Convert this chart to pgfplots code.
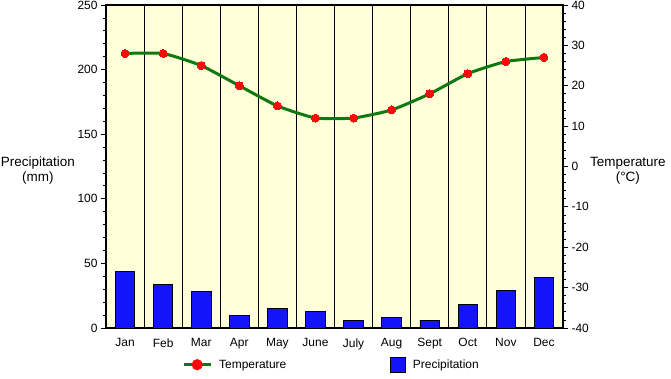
\documentclass[border=0pt]{standalone}
\usepackage{pgfplots}
\pgfplotsset{compat=1.18}
\usepackage{fontspec}
\setmainfont{Liberation Sans}
\definecolor{bg}{RGB}{255,255,217}
\definecolor{barblue}{RGB}{20,20,250}
\definecolor{lgreen}{RGB}{16,120,16}
\definecolor{mred}{RGB}{250,10,10}
\begin{document}
\begin{tikzpicture}
\useasboundingbox (0,0) rectangle (671bp,379bp);
\begin{axis}[
  at={(106bp,51bp)}, anchor=south west,
  scale only axis, width=457bp, height=323bp,
  xmin=0.5, xmax=12.5, ymin=0, ymax=250,
  clip mode=individual,
  axis background/.style={fill=bg},
  axis line style={line width=1.6bp},
  xtick={1,...,12},
  xticklabels={Jan,Feb,Mar,Apr,May,June,July,Aug,Sept,Oct,Nov,Dec},
  minor xtick={1.5,2.5,...,11.5},
  xminorgrids, minor x grid style={black, line width=0.8bp, solid},
  xtick style={draw=none},
  xtick pos=bottom,
  ytick={0,50,...,250}, minor y tick num=4, ytick pos=left,
  tick align=outside, major tick length=5bp, minor tick length=3bp,
  ytick style={black, line width=0.8bp},
  tick label style={font=\fontsize{12}{14}\selectfont},
  /pgf/number format/assume math mode=true,
  xticklabel style={yshift=-2bp},
  ybar, bar width=19.5bp,
  legend style={at={(axis description cs:0.6214,-0.1136)}, anchor=west,
    draw=none, fill=none, inner sep=0pt, font=\fontsize{12}{14}\selectfont,
    column sep=5bp},
]
\addplot[fill=barblue, draw=black, line width=0.8bp,
  legend image code/.code={\draw[fill=barblue, draw=black, line width=0.8bp] (0bp,-7.5bp) rectangle (15bp,7.5bp);}]
  coordinates {(1,44) (2,34) (3,28) (4,10) (5,15) (6,13) (7,6) (8,8) (9,6) (10,18) (11,29) (12,39)};
\addlegendentry{Precipitation}
\node[align=center, font=\fontsize{13.5}{15}\selectfont] at (axis description cs:-0.149,0.488) {Precipitation\\(mm)};
\end{axis}
\begin{axis}[
  at={(106bp,51bp)}, anchor=south west,
  scale only axis, width=457bp, height=323bp,
  xmin=0.5, xmax=12.5, ymin=-40, ymax=40,
  clip mode=individual,
  axis x line=none, axis y line*=right,
  axis line style={line width=1.6bp, -},
  ytick={-40,-30,...,40}, minor y tick num=4,
  tick align=outside, major tick length=5bp, minor tick length=3bp,
  ytick style={black, line width=0.8bp},
  tick label style={font=\fontsize{12}{14}\selectfont},
  /pgf/number format/assume math mode=true,
  legend style={at={(axis description cs:0.1663,-0.1136)}, anchor=west,
    draw=none, fill=none, inner sep=0pt, font=\fontsize{12}{14}\selectfont,
    column sep=5bp},
]
\addplot[lgreen, line width=3bp, smooth, tension=0.3, mark=*, mark size=4bp,
  mark options={draw=mred, fill=mred, line width=0pt},
  legend image code/.code={\draw[lgreen, line width=3bp] (0bp,0bp) -- (27bp,0bp);
    \fill[mred] (13.5bp,0bp) circle (4bp);}]
  coordinates {(1,28) (2,28) (3,25) (4,20) (5,15) (6,12) (7,12) (8,14) (9,18) (10,23) (11,26) (12,27)};
\addlegendentry{Temperature}
\node[align=center, font=\fontsize{13.5}{15}\selectfont] at (axis description cs:1.142,0.488) {Temperature\\(°C)};
\end{axis}
\end{tikzpicture}
\end{document}
